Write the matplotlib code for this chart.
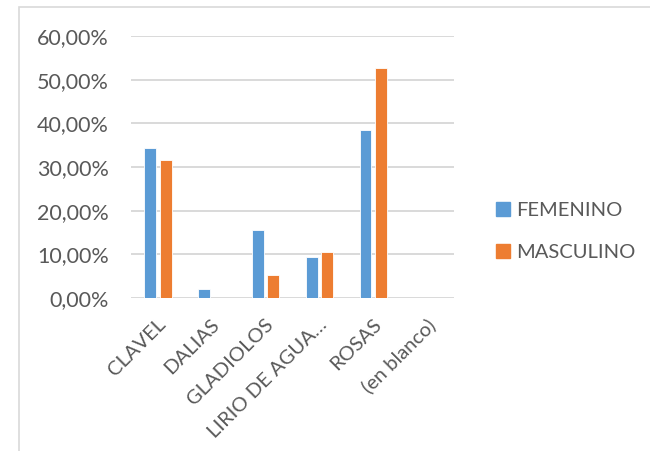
import numpy as np
import matplotlib.pyplot as plt
import matplotlib.transforms as mtransforms
from matplotlib.patches import Patch, Rectangle
from matplotlib.ticker import FuncFormatter

plt.rcParams['font.family'] = ['Lato', 'DejaVu Sans']

categories = ['CLAVEL', 'DALIAS', 'GLADIOLOS', 'LIRIO DE AGUA…', 'ROSAS', '(en blanco)']
femenino = [34.38, 2.08, 15.63, 9.38, 38.54, np.nan]
masculino = [31.58, np.nan, 5.26, 10.53, 52.63, np.nan]

blue = '#5B9BD5'
orange = '#ED7D31'
grey_text = '#595959'
grid_col = '#D9D9D9'

W, H = 650, 451
fig = plt.figure(figsize=(W / 100, H / 100), dpi=100)

# chart frame
fig.patches.append(Rectangle((19 / W, -0.1), 1.2, 1 - 7 / H + 0.1, transform=fig.transFigure,
                             fill=False, edgecolor=grid_col, linewidth=1.2))

ax = fig.add_axes([131 / W, (H - 298) / H, 323 / W, 262 / H])

x = np.arange(len(categories))
bw = 0.22
ax.bar(x - 0.145, femenino, bw, color=blue, edgecolor='white', linewidth=0.6, zorder=3)
ax.bar(x + 0.145, masculino, bw, color=orange, edgecolor='white', linewidth=0.6, zorder=3)

ax.set_xlim(-0.5, len(categories) - 0.5)
ax.set_ylim(0, 60)
ax.set_yticks(np.arange(0, 61, 10))
ax.yaxis.set_major_formatter(FuncFormatter(lambda v, p: f'{v:.2f}'.replace('.', ',') + '%'))
ax.grid(axis='y', color=grid_col, linewidth=1.4, zorder=0)
ax.set_axisbelow(True)
for s in ax.spines.values():
    s.set_visible(False)

ax.set_xticks(x)
ax.set_xticklabels(categories, rotation=45, ha='right', va='center', rotation_mode='anchor')
ax.tick_params(axis='x', length=0, pad=17, labelsize=14.5, labelcolor=grey_text)
ax.tick_params(axis='y', length=0, pad=16, labelsize=15.5, labelcolor=grey_text)

# nudge the slanted labels a little to the right
shift = mtransforms.ScaledTranslation(5 / 100, 0, fig.dpi_scale_trans)
for lab in ax.get_xticklabels():
    lab.set_transform(lab.get_transform() + shift)

handles = [Patch(color=blue, label='FEMENINO'), Patch(color=orange, label='MASCULINO')]
fig.legend(handles=handles, loc='center left', bbox_to_anchor=(496 / W, 1 - 231.5 / H),
           frameon=False, fontsize=14.5, labelcolor=grey_text, handlelength=0.7, handleheight=0.7,
           handletextpad=0.3, labelspacing=1.25, borderpad=0, borderaxespad=0)

fig.savefig('out.png', dpi=100)
